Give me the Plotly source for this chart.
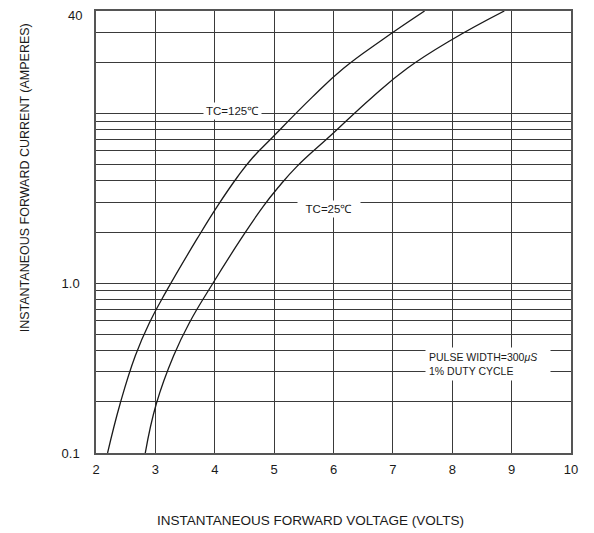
import math
import plotly.graph_objects as go

# ---- data (forward voltage in V, forward current in A) ----
v_tc125 = [2.195, 2.406, 2.662, 2.898, 3.192, 3.701, 4.048, 4.385, 4.637, 4.936, 5.638, 6.170, 6.817, 7.534]
i_tc125 = [0.100, 0.195, 0.374, 0.583, 0.906, 1.82, 2.85, 4.23, 5.47, 7.00, 12.4, 18.4, 27.0, 40.0]

v_tc25 = [2.830, 3.016, 3.307, 3.571, 3.964, 4.442, 4.823, 5.075, 5.373, 5.975, 6.648, 7.243, 7.984, 8.877]
i_tc25 = [0.100, 0.195, 0.374, 0.583, 0.992, 1.82, 2.85, 3.68, 4.82, 7.52, 12.4, 18.4, 27.0, 40.0]

x_ticks = [2, 3, 4, 5, 6, 7, 8, 9, 10]
y_grid = [0.1, 0.2, 0.3, 0.4, 0.5, 0.6, 0.7, 0.8, 0.9,
          1, 2, 3, 4, 5, 6, 7, 8, 9, 10, 20, 30, 40]
y_labels = {0.1: "0.1", 1: "1.0"}   # "40" is placed as an annotation just under the top edge
y_top_label = (40, "40")

FONT = "Liberation Sans, Arial, sans-serif"
LINE = "#1a1a1a"
GRID = "#3a3a3a"

fig = go.Figure()
fig.add_trace(go.Scatter(x=v_tc125, y=i_tc125, mode="lines", name="TC=125℃",
                         line=dict(color=LINE, width=1.3, shape="spline", smoothing=1.3),
                         showlegend=False))
fig.add_trace(go.Scatter(x=v_tc25, y=i_tc25, mode="lines", name="TC=25℃",
                         line=dict(color=LINE, width=1.3, shape="spline", smoothing=1.3),
                         showlegend=False))

# the page body adds an 8px margin, so the figure is 8px smaller than the window
fig.update_layout(
    width=586, height=525,
    margin=dict(l=88, r=23, t=1, b=80),
    paper_bgcolor="white", plot_bgcolor="white",
    font=dict(family=FONT, color="#1a1a1a", size=13),
    xaxis=dict(range=[2, 10], tickvals=x_ticks, ticktext=[str(t) for t in x_ticks],
               showgrid=True, gridcolor=GRID, gridwidth=1, zeroline=False,
               showline=True, mirror=True, linecolor="#555", linewidth=1.5,
               ticks="", tickfont=dict(size=13), ticklabelstandoff=4),
    yaxis=dict(type="log", range=[-1, math.log10(40)],
               tickvals=y_grid, ticktext=[y_labels.get(v, "") for v in y_grid],
               showgrid=True, gridcolor=GRID, gridwidth=1, zeroline=False,
               showline=True, mirror=True, linecolor="#555", linewidth=1.5,
               ticks="", tickfont=dict(size=13), ticklabelstandoff=12),
)

annotations = [
    dict(text=y_top_label[1], xref="paper", yref="y", x=0, y=math.log10(y_top_label[0]),
         xanchor="right", yanchor="middle", xshift=-12, yshift=-4, showarrow=False,
         font=dict(size=13)),
    dict(text="INSTANTANEOUS FORWARD VOLTAGE (VOLTS)", xref="paper", yref="paper",
         x=0.451, y=-0.153, xanchor="center", yanchor="middle", showarrow=False,
         font=dict(size=13.5)),
    dict(text="INSTANTANEOUS FORWARD CURRENT (AMPERES)", xref="paper", yref="paper",
         x=-0.149, y=0.622, xanchor="center", yanchor="middle", showarrow=False,
         textangle=-90, font=dict(size=12.5)),
    dict(text="TC=125℃", x=4.30, y=math.log10(10.3), xref="x", yref="y",
         showarrow=False, bgcolor="white", borderpad=2, font=dict(size=11.5)),
    dict(text="TC=25℃", x=5.93, y=math.log10(2.75), xref="x", yref="y",
         showarrow=False, bgcolor="white", borderpad=2, width=58, font=dict(size=11.5)),
    dict(text="PULSE WIDTH=300<i>μS</i><br>1% DUTY CYCLE", x=7.54, y=math.log10(0.332),
         xref="x", yref="y", xanchor="left", yanchor="middle", align="left",
         showarrow=False, bgcolor="white", borderpad=3, width=118,
         font=dict(size=10.5, family="Liberation Sans Narrow, Arial Narrow, Liberation Sans, Arial")),
]
fig.update_layout(annotations=annotations)

fig.write_html("out.html")
